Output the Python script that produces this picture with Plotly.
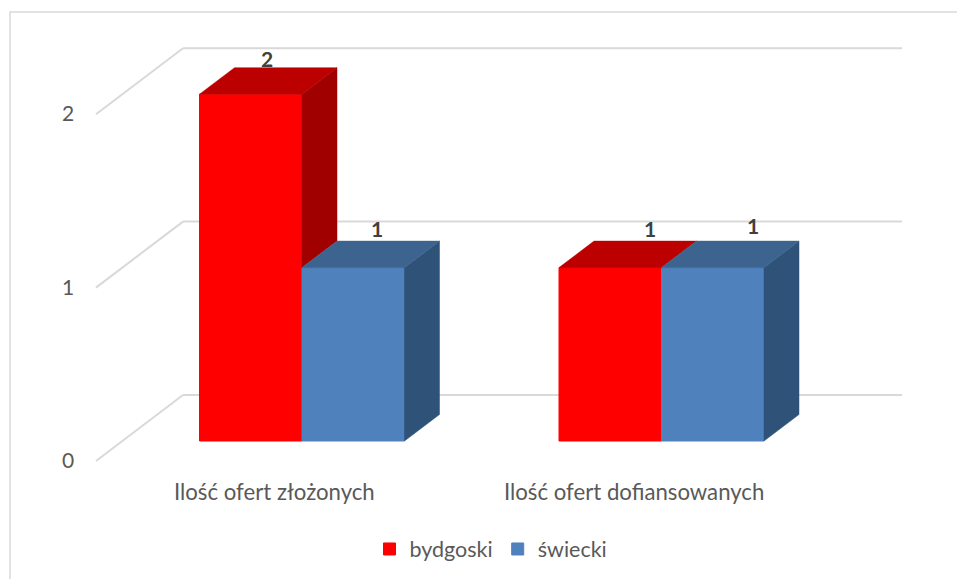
import plotly.graph_objects as go

# data
categories = ["Ilość ofert złożonych", "Ilość ofert dofiansowanych"]
series_names = ["bydgoski", "świecki"]
bydgoski = [2, 1]
swiecki = [1, 1]
y_ticks = [0, 1, 2]

# style
FRONT = ["#FF0000", "#4F81BD"]
TOP = ["#BC0000", "#3C648F"]
SIDE = ["#A00000", "#2F5279"]
GRID = "#D9D9D9"
TEXT = "#595959"
FONT = "Lato"

# pixel scale of the picture: one category step / one value step
W, H = 957, 579
STEP_X = 359.5
STEP_Y = 173.4
X0_PX, Y0_PX = 302, 441  # category 0 centre, value 0 baseline

BAR_W = 102.5 / STEP_X
DX, DY = 35 / STEP_X, 26.5 / STEP_Y        # bar depth
WALL_DX, WALL_DY = 87 / STEP_X, 46 / STEP_Y  # floor front edge to back wall
TICK_DROP = 20 / STEP_Y                    # left end of the slanted lines sits below the bars' baseline


def poly(xs, ys, color):
    return go.Scatter(x=xs, y=ys, mode="lines", fill="toself", fillcolor=color,
                      line=dict(color=color, width=0.5), hoverinfo="skip", showlegend=False)


fig = go.Figure()

all_vals = [bydgoski, swiecki]
for s, vals in enumerate(all_vals):
    fig.add_trace(go.Bar(x=list(range(len(categories))), y=vals, name=series_names[s],
                         marker=dict(color=FRONT[s], line=dict(width=1, color=FRONT[s])),
                         hoverinfo="skip"))

# depth faces, red series first so blue tops lie on them
for s, vals in enumerate(all_vals):
    for c, v in enumerate(vals):
        left = c + (s - 1) * BAR_W
        right = left + BAR_W
        # the side is hidden up to the height of the neighbour on the right
        low = all_vals[s + 1][c] if s + 1 < len(all_vals) else 0
        if v > low:
            fig.add_trace(poly([right, right + DX, right + DX, right, right],
                               [v, v + DY, low + DY, low, v], SIDE[s]))
        fig.add_trace(poly([left, left + DX, right + DX, right, left],
                           [v, v + DY, v + DY, v, v], TOP[s]))

# back wall lines and slanted side-wall lines
shapes = []
wall_left = -X0_PX / STEP_X + 183 / STEP_X
wall_right = -X0_PX / STEP_X + 902 / STEP_X
for t in y_ticks:
    back = t + WALL_DY
    front = t - TICK_DROP
    shapes.append(dict(type="line", layer="below", xref="x", yref="y",
                       x0=wall_left, x1=wall_right, y0=back, y1=back,
                       line=dict(color=GRID, width=2)))
    shapes.append(dict(type="line", layer="below", xref="x", yref="y",
                       x0=wall_left - WALL_DX, x1=wall_left, y0=front, y1=back,
                       line=dict(color=GRID, width=2)))
# chart frame, left and top edges only are in view
shapes.append(dict(type="path", layer="below", xref="paper", yref="paper",
                   path=f"M {10/W} 0 L {10/W} {1-12/H} L 1 {1-12/H}",
                   line=dict(color=GRID, width=1.5)))

annotations = []
# value labels, nudged by hand as in the picture
nudges = [[(16, 36), (24, 39)], [(40, 39), (40, 42)]]
for c, cat in enumerate(categories):
    annotations.append(dict(x=c, y=0, text=cat, xref="x", yref="y", showarrow=False,
                            xshift=-27.5, yshift=-50,
                            font=dict(family=FONT, size=22.2, color=TEXT)))
    for s, vals in enumerate(all_vals):
        nx, ny = nudges[c][s]
        annotations.append(dict(x=c + (s - 0.5) * BAR_W, y=vals[c], text=f"<b>{vals[c]}</b>",
                                xref="x", yref="y", showarrow=False, xshift=nx, yshift=ny,
                                font=dict(family=FONT, size=21, color="#404040")))
for t in y_ticks:
    annotations.append(dict(x=wall_left - WALL_DX, y=t - TICK_DROP, text=str(t), xref="x", yref="y",
                            showarrow=False, xshift=-28, yshift=1.5,
                            font=dict(family=FONT, size=21, color=TEXT)))

fig.update_layout(
    width=W, height=H,
    margin=dict(l=0, r=0, t=0, b=0),
    autosize=False,
    plot_bgcolor="white", paper_bgcolor="white",
    barmode="group", bargap=1 - 2 * BAR_W, bargroupgap=0,
    xaxis=dict(range=[-X0_PX / STEP_X, (W - X0_PX) / STEP_X], visible=False, fixedrange=True),
    yaxis=dict(range=[(Y0_PX - H) / STEP_Y, Y0_PX / STEP_Y], visible=False, fixedrange=True),
    shapes=shapes, annotations=annotations,
    showlegend=True,
    legend=dict(orientation="h", x=491 / W, xanchor="center", y=1 - 549 / H, yanchor="middle",
                font=dict(family=FONT, size=21.5, color=TEXT), itemclick=False, itemdoubleclick=False,
                traceorder="normal"),
)

# the page's default 8px body margin would shift the whole chart
fig.write_html("out.html", config=dict(displayModeBar=False),
               post_script="document.body.style.margin='0';")
